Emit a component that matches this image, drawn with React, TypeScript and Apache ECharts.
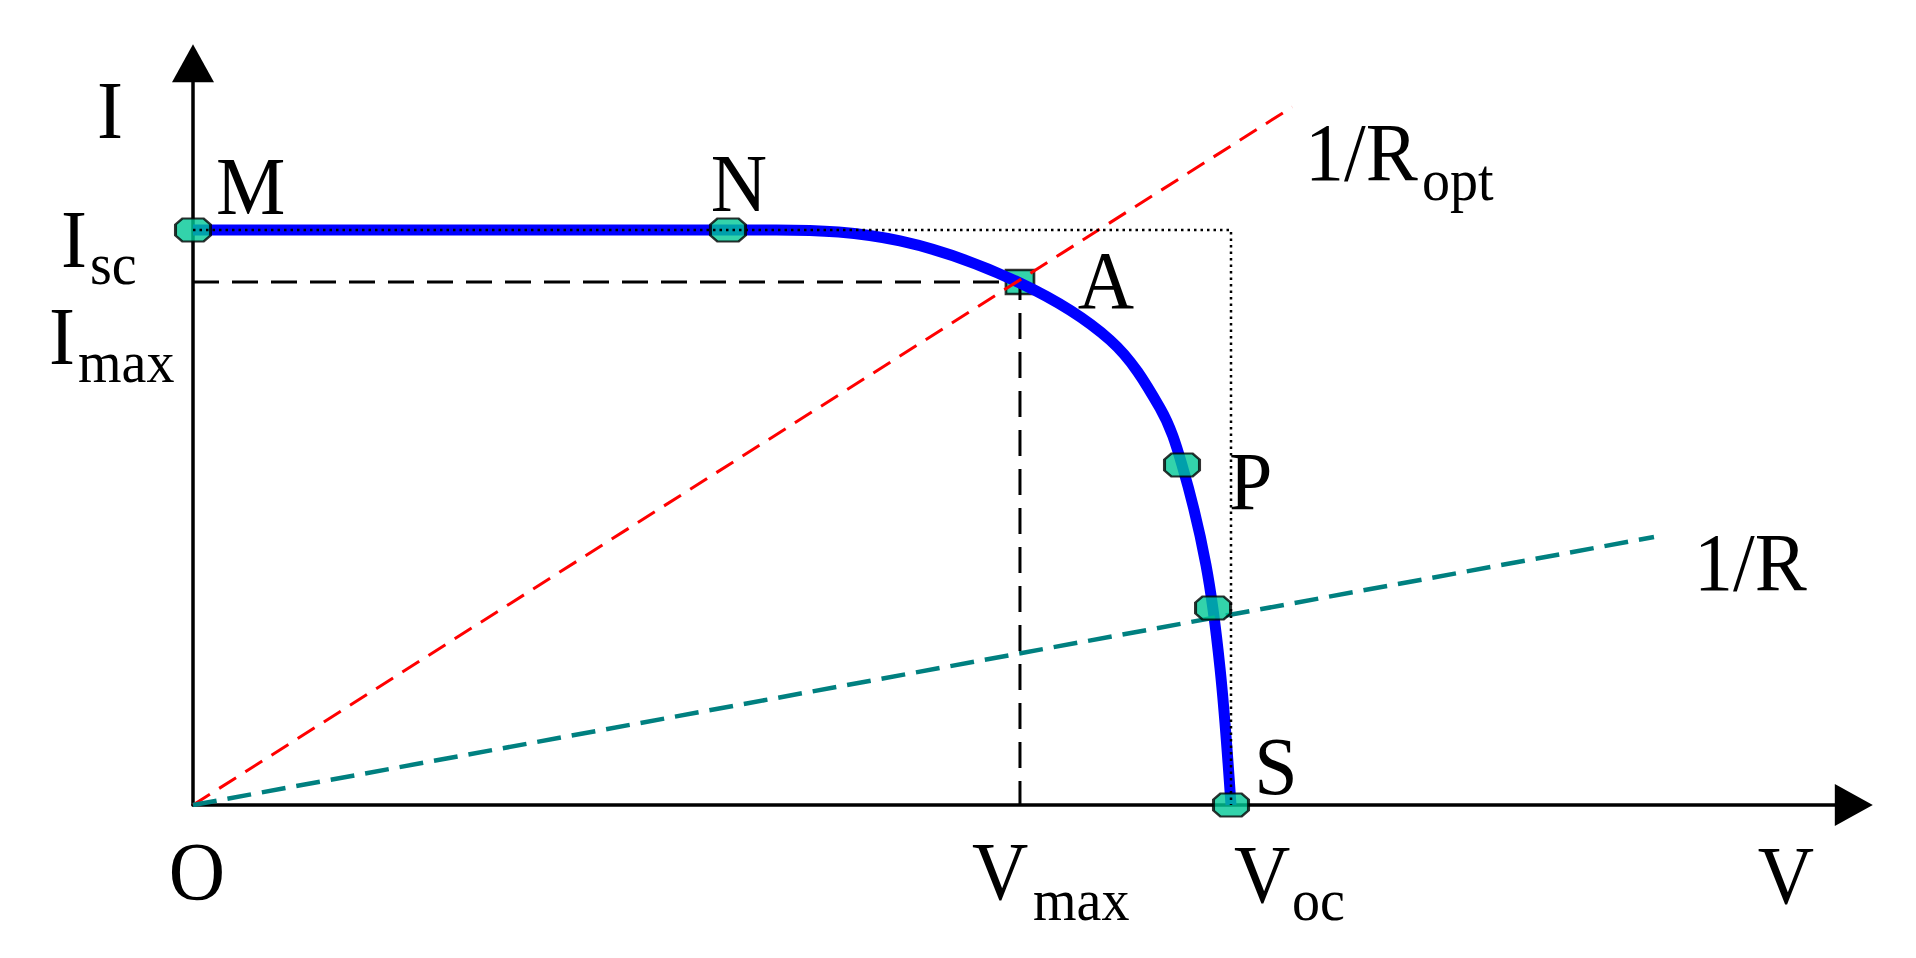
import React, { useEffect, useRef } from "react";
import * as echarts from "echarts";

// I-V characteristic (V normalised to Voc = 1, I normalised to Isc = 1)
const curveV = [0, 0.5617, 0.6811, 0.7967, 0.8834, 0.9316, 0.9528, 0.9759, 0.9894, 1.0];
const curveI = [1.0, 1.0, 0.9809, 0.9078, 0.8087, 0.6904, 0.5913, 0.4174, 0.2383, 0];

// operating points M, N, P, Q(1/R intersection), S
const pointNames = ["M", "N", "P", "Q", "S"];
const pointV = [0, 0.5154, 0.9528, 0.9827, 1.0];
const pointI = [1.0, 1.0, 0.5913, 0.3426, 0];

// maximum power point A
const vMax = 0.7967;
const iMax = 0.9096;

// load lines (from origin to end point)
const ropt = [[0, 0], [1.059, 1.214]];
const rLoad = [[0, 0], [1.4075, 0.466]];

// Isc / Voc reference rectangle
const voc = 1.0;
const isc = 1.0;

// axis extents
const xAxisMax = 1.6;
const yAxisMax = 1.29;

const FONT = "'Liberation Serif', 'Times New Roman', serif";
const MAIN = 78;
const SUB = 56;
const SY = 1.07;

function txt(text: string, x: number, y: number, size: number, align: string) {
  return {
    type: "text",
    x,
    y,
    scaleY: SY,
    z: 20,
    style: {
      text,
      fill: "#000",
      font: `${size}px ${FONT}`,
      align,
      verticalAlign: "middle",
    },
  };
}

export default function App() {
  const ref = useRef<HTMLDivElement>(null);
  useEffect(() => {
    if (!ref.current) return;
    const chart = echarts.init(ref.current, null, { renderer: "svg" });
    const axisCommon = {
      type: "value",
      min: 0,
      axisLine: {
        show: true,
        onZero: false,
        symbol: ["none", "triangle"],
        symbolSize: [42, 38],
        lineStyle: { color: "#000", width: 3.5 },
      },
      axisTick: { show: false },
      axisLabel: { show: false },
      splitLine: { show: false },
    };
    const subY = (baseline: number) => baseline - 0.3375 * SUB * SY;
    chart.setOption({
      animation: false,
      backgroundColor: "#fff",
      grid: { left: 193, top: 63.25, width: 1660.8, height: 741.75 },
      xAxis: { ...axisCommon, max: xAxisMax },
      yAxis: { ...axisCommon, max: yAxisMax },
      series: [
        {
          type: "scatter",
          z: 1,
          symbol: "rect",
          symbolSize: [28, 24],
          itemStyle: { color: "#00c896", borderColor: "#000", borderWidth: 2.5 },
          data: [[vMax, iMax]],
        },
        {
          type: "line",
          z: 2,
          symbol: "none",
          lineStyle: { color: "#000", width: 3, type: [26, 13] },
          data: [[0, iMax], [vMax, iMax], [vMax, 0]],
        },
        {
          type: "line",
          z: 2,
          symbol: "none",
          smooth: 0.35,
          lineStyle: { color: "#0000ff", width: 11 },
          data: curveV.map((v, i) => [v, curveI[i]]),
        },
        {
          type: "line",
          z: 2,
          symbol: "none",
          lineStyle: { color: "#ff0000", width: 3, type: [20, 11] },
          data: ropt,
        },
        {
          type: "line",
          z: 2,
          symbol: "none",
          lineStyle: { color: "#008080", width: 4.5, type: [24, 11] },
          data: rLoad,
        },
        {
          type: "scatter",
          z: 3,
          symbol: "path://M7,0 L28,0 L35,6 L35,17 L28,23 L7,23 L0,17 L0,6 Z",
          symbolSize: [35, 23],
          itemStyle: { color: "#00c896", borderColor: "#000", borderWidth: 2.5 },
          data: pointNames.map((n, i) => ({ name: n, value: [pointV[i], pointI[i]] })),
        },
        {
          type: "line",
          z: 4,
          symbol: "none",
          lineStyle: { color: "#000", width: 2.5, type: [2.5, 4] },
          data: [[0, isc], [voc, isc], [voc, 0]],
        },
      ],
      graphic: [
        txt("I", 110, 110, MAIN, "center"),
        txt("M", 216, 186, MAIN, "left"),
        txt("N", 739, 183, MAIN, "center"),
        txt("I", 61, 239, MAIN, "left"),
        txt("sc", 90, subY(284), SUB, "left"),
        txt("I", 49, 336, MAIN, "left"),
        txt("max", 78, subY(382), SUB, "left"),
        txt("A", 1106, 280, MAIN, "center"),
        txt("P", 1229, 481, MAIN, "left"),
        txt("S", 1276, 766, MAIN, "center"),
        txt("O", 197, 871, MAIN, "center"),
        txt("V", 972, 871, MAIN, "left"),
        txt("max", 1033, subY(920), SUB, "left"),
        txt("V", 1234, 874, MAIN, "left"),
        txt("oc", 1292, subY(920), SUB, "left"),
        txt("V", 1786, 875, MAIN, "center"),
        txt("1/R", 1305, 152, MAIN, "left"),
        txt("opt", 1422, subY(200), SUB, "left"),
        txt("1/R", 1694, 562, MAIN, "left"),
      ],
    });
    return () => chart.dispose();
  }, []);
  return (
    <div
      ref={ref}
      style={{ position: "fixed", left: 0, top: 0, width: "100vw", height: "100vh" }}
    />
  );
}
